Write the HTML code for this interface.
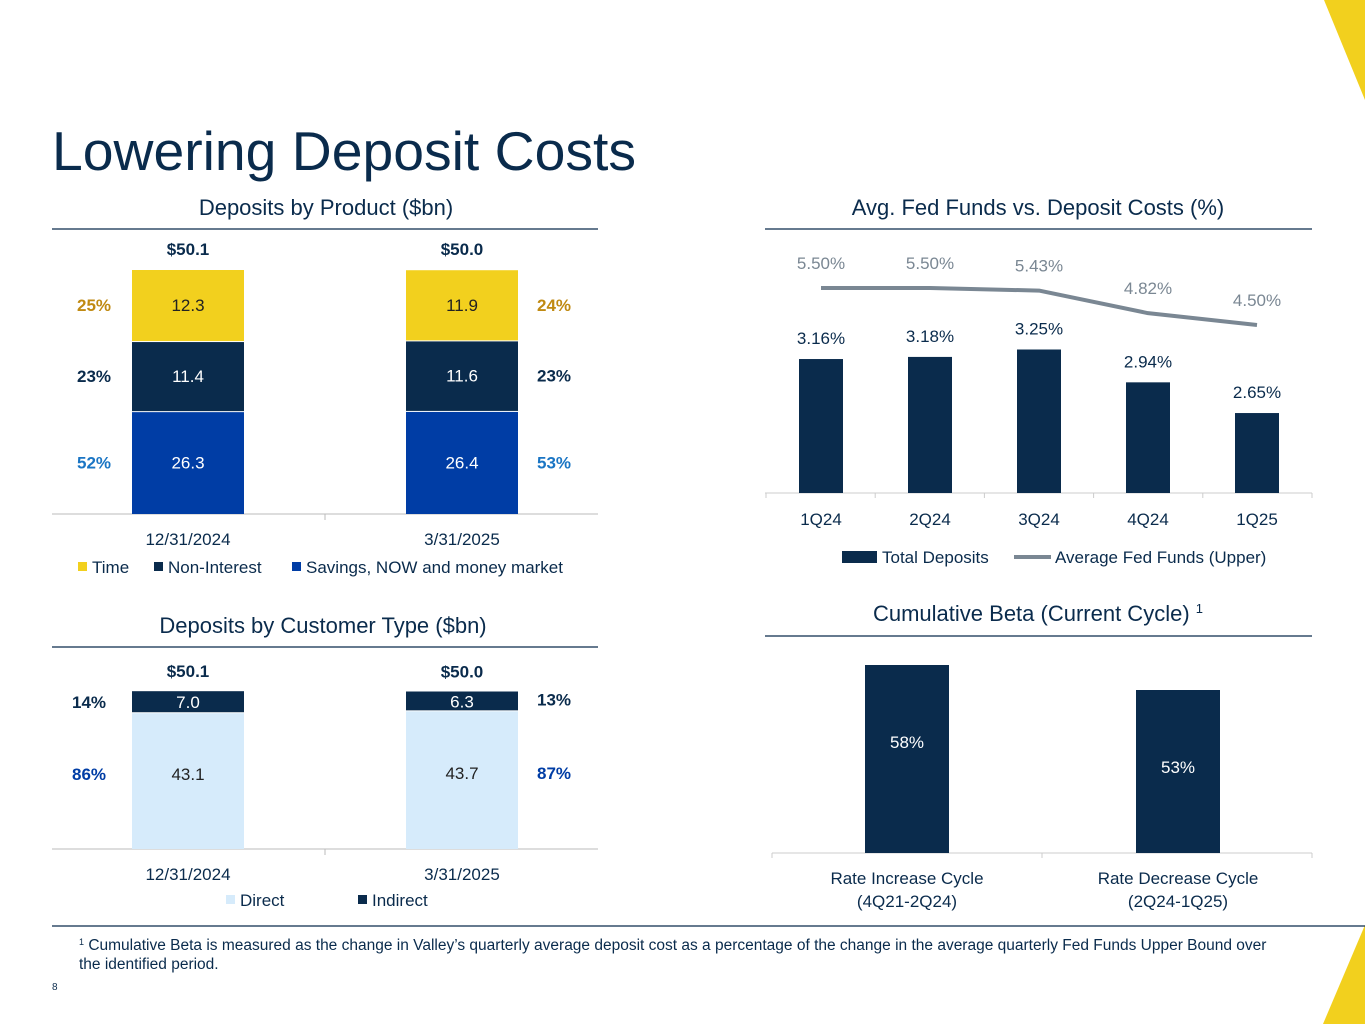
<!DOCTYPE html>
<html><head><meta charset="utf-8"><style>
body{margin:0;width:1365px;height:1024px;background:#fff;overflow:hidden;font-family:"Liberation Sans",sans-serif}
svg{display:block}
text{font-family:"Liberation Sans",sans-serif}
</style></head><body>
<svg id="s" width="1365" height="1024" viewBox="0 0 1365 1024">
<polygon points="1324,0 1365,0 1365,100" fill="#f2d01e"/>
<polygon points="1365,925 1365,1024 1323,1024" fill="#f2d01e"/>
<text x="52" y="170" font-size="55" fill="#0a2b4c" textLength="584" lengthAdjust="spacingAndGlyphs">Lowering Deposit Costs</text>

<text x="326" y="215" font-size="22" fill="#0a2b4c" text-anchor="middle">Deposits by Product ($bn)</text>
<line x1="52" y1="229" x2="598" y2="229" stroke="#0a2b4c" stroke-width="1.2"/>
<text x="1038" y="215" font-size="22" fill="#0a2b4c" text-anchor="middle">Avg. Fed Funds vs. Deposit Costs (%)</text>
<line x1="765" y1="229" x2="1312" y2="229" stroke="#0a2b4c" stroke-width="1.2"/>
<text x="323" y="633" font-size="22" fill="#0a2b4c" text-anchor="middle">Deposits by Customer Type ($bn)</text>
<line x1="52" y1="647" x2="598" y2="647" stroke="#0a2b4c" stroke-width="1.2"/>
<text x="1038" y="621" font-size="22" fill="#0a2b4c" text-anchor="middle">Cumulative Beta (Current Cycle) <tspan font-size="13" dy="-8">1</tspan></text>
<line x1="765" y1="636" x2="1312" y2="636" stroke="#0a2b4c" stroke-width="1.2"/>

<line x1="52" y1="926" x2="1365" y2="926" stroke="#0a2b4c" stroke-width="1.2"/>
<text x="79" y="950" font-size="15.5" fill="#0a2b4c"><tspan font-size="9" dy="-5">1</tspan><tspan dy="5"> Cumulative Beta is measured as the change in Valley’s quarterly average deposit cost as a percentage of the change in the average quarterly Fed Funds Upper Bound over</tspan></text>
<text x="79" y="969" font-size="15.5" fill="#0a2b4c">the identified period.</text>
<text x="52" y="990" font-size="10" fill="#0a2b4c">8</text>
<g id="g"></g>
</svg>
<script>
const prodCats=["12/31/2024","3/31/2025"];
const prodSavings=[26.3,26.4];
const prodNonInt=[11.4,11.6];
const prodTime=[12.3,11.9];
const prodTotals=["$50.1","$50.0"];
const prodPctSav=["52%","53%"];
const prodPctNon=["23%","23%"];
const prodPctTime=["25%","24%"];
const custDirect=[43.1,43.7];
const custIndirect=[7.0,6.3];
const custTotals=["$50.1","$50.0"];
const custPctDir=["86%","87%"];
const custPctInd=["14%","13%"];
const qCats=["1Q24","2Q24","3Q24","4Q24","1Q25"];
const depCost=[3.16,3.18,3.25,2.94,2.65];
const fedFunds=[5.50,5.50,5.43,4.82,4.50];
const betaCats=[["Rate Increase Cycle","(4Q21-2Q24)"],["Rate Decrease Cycle","(2Q24-1Q25)"]];
const betaVals=[58,53];

const NS="http://www.w3.org/2000/svg",G=document.getElementById('g');
function mk(t,a,txt){const e=document.createElementNS(NS,t);for(const k in a)e.setAttribute(k,a[k]);if(txt!=null)e.textContent=txt;G.appendChild(e);return e;}
const NAVY="#0a2b4c",BLUE="#003da5",YEL="#f2d01e",LB="#d6ebfb";
const FS=17;

// product chart
const pX=i=>188+i*274, pBase=514, segH=v=>2.2*v+45;
mk('line',{x1:52,y1:pBase,x2:598,y2:pBase,stroke:'#bbb'});
mk('line',{x1:325,y1:pBase,x2:325,y2:pBase+6,stroke:'#bbb'});
prodCats.forEach((c,i)=>{
  let y=pBase;
  const segs=[[prodSavings[i],BLUE,'#fff','savings'],[prodNonInt[i],NAVY,'#fff','non-interest'],[prodTime[i],YEL,'#222','time']];
  const pcts=[prodPctSav[i],prodPctNon[i],prodPctTime[i]],pcol=['#1a75c4',NAVY,'#c08a12'];
  segs.forEach((s,j)=>{const h=segH(s[0]);y-=h;
    const r=mk('rect',{x:pX(i)-56,y:y+1,width:112,height:h-1,fill:s[1]});
    
    
    mk('text',{x:pX(i),y:y+h/2+6,'font-size':FS,fill:s[2],'text-anchor':'middle'},s[0].toFixed(1));
    const px=i==0?pX(i)-94:pX(i)+92;
    mk('text',{x:px,y:y+h/2+6,'font-size':FS,'font-weight':'bold',fill:pcol[j],'text-anchor':'middle'},pcts[j]);
  });
  mk('text',{x:pX(i),y:y-14,'font-size':FS,'font-weight':'bold',fill:NAVY,'text-anchor':'middle'},prodTotals[i]);
  mk('text',{x:pX(i),y:545,'font-size':FS,fill:NAVY,'text-anchor':'middle'},c);
});
[[78,YEL,'Time'],[154,NAVY,'Non-Interest'],[292,BLUE,'Savings, NOW and money market']].forEach(l=>{
  mk('rect',{x:l[0],y:562,width:9,height:9,fill:l[1]});mk('text',{x:l[0]+14,y:573,'font-size':FS,fill:NAVY},l[2]);});

// customer chart
const cBase=849,cK=3.15;
mk('line',{x1:52,y1:cBase,x2:598,y2:cBase,stroke:'#bbb'});
mk('line',{x1:325,y1:cBase,x2:325,y2:cBase+6,stroke:'#bbb'});
prodCats.forEach((c,i)=>{
  const hd=custDirect[i]*cK,hi=custIndirect[i]*cK;
  const r1=mk('rect',{x:pX(i)-56,y:cBase-hd,width:112,height:hd,fill:LB});
  
  
  const r2=mk('rect',{x:pX(i)-56,y:cBase-hd-hi,width:112,height:hi-1,fill:NAVY});
  
  
  mk('text',{x:pX(i),y:cBase-hd/2-1,'font-size':FS,fill:'#222','text-anchor':'middle'},custDirect[i].toFixed(1));
  mk('text',{x:pX(i),y:cBase-hd-hi/2+6,'font-size':FS,fill:'#fff','text-anchor':'middle'},custIndirect[i].toFixed(1));
  const px=i==0?pX(i)-99:pX(i)+92;
  mk('text',{x:px,y:cBase-hd/2-1,'font-size':FS,'font-weight':'bold',fill:BLUE,'text-anchor':'middle'},custPctDir[i]);
  mk('text',{x:px,y:cBase-hd-hi/2+(i==0?6:4),'font-size':FS,'font-weight':'bold',fill:NAVY,'text-anchor':'middle'},custPctInd[i]);
  mk('text',{x:pX(i),y:cBase-hd-hi-14,'font-size':FS,'font-weight':'bold',fill:NAVY,'text-anchor':'middle'},custTotals[i]);
  mk('text',{x:pX(i),y:880,'font-size':FS,fill:NAVY,'text-anchor':'middle'},c);
});
[[226,LB,'Direct'],[358,NAVY,'Indirect']].forEach(l=>{
  mk('rect',{x:l[0],y:895,width:9,height:9,fill:l[1]});mk('text',{x:l[0]+14,y:906,'font-size':FS,fill:NAVY},l[2]);});

// fed chart
const qX=i=>821+i*109, qBase=493, barY=v=>qBase-105.9*(v-1.895), lineY=v=>288+37*(5.5-v);
mk('line',{x1:765,y1:qBase,x2:1312,y2:qBase,stroke:'#ccc'});
for(let i=0;i<=5;i++)mk('line',{x1:766+i*109.2,y1:qBase,x2:766+i*109.2,y2:qBase+5,stroke:'#ccc'});
qCats.forEach((c,i)=>{
  const y=barY(depCost[i]);
  const r=mk('rect',{x:qX(i)-22,y:y,width:44,height:qBase-y,fill:NAVY});
  
  
  mk('text',{x:qX(i),y:y-15,'font-size':FS,fill:NAVY,'text-anchor':'middle'},depCost[i].toFixed(2)+'%');
  mk('text',{x:qX(i),y:525,'font-size':FS,fill:NAVY,'text-anchor':'middle'},c);
  mk('text',{x:qX(i),y:lineY(fedFunds[i])-19,'font-size':FS,fill:'#7a8793','text-anchor':'middle'},fedFunds[i].toFixed(2)+'%');
});
const pl=mk('polyline',{points:fedFunds.map((v,i)=>qX(i)+','+lineY(v)).join(' '),fill:'none',stroke:'#7a8793','stroke-width':4,'stroke-linejoin':'round'});


mk('rect',{x:842,y:551,width:35,height:12,fill:NAVY});
mk('text',{x:882,y:563,'font-size':FS,fill:NAVY},'Total Deposits');
mk('line',{x1:1014,y1:557,x2:1051,y2:557,stroke:'#7a8793','stroke-width':4});
mk('text',{x:1055,y:563,'font-size':FS,fill:NAVY},'Average Fed Funds (Upper)');

// beta chart
const bX=i=>907+i*271, bBase=853, bY=v=>bBase-5*(v-20.4);
mk('line',{x1:772,y1:bBase,x2:1312,y2:bBase,stroke:'#ccc'});
[772,1042,1312].forEach(x=>mk('line',{x1:x,y1:bBase,x2:x,y2:bBase+5,stroke:'#ccc'}));
betaVals.forEach((v,i)=>{
  const y=bY(v);
  const r=mk('rect',{x:bX(i)-42,y:y,width:84,height:bBase-y,fill:NAVY});
  
  
  mk('text',{x:bX(i),y:y+83,'font-size':FS,fill:'#fff','text-anchor':'middle'},v+'%');
  mk('text',{x:bX(i),y:884,'font-size':FS,fill:NAVY,'text-anchor':'middle'},betaCats[i][0]);
  mk('text',{x:bX(i),y:907,'font-size':FS,fill:NAVY,'text-anchor':'middle'},betaCats[i][1]);
});
</script>
</body></html>
